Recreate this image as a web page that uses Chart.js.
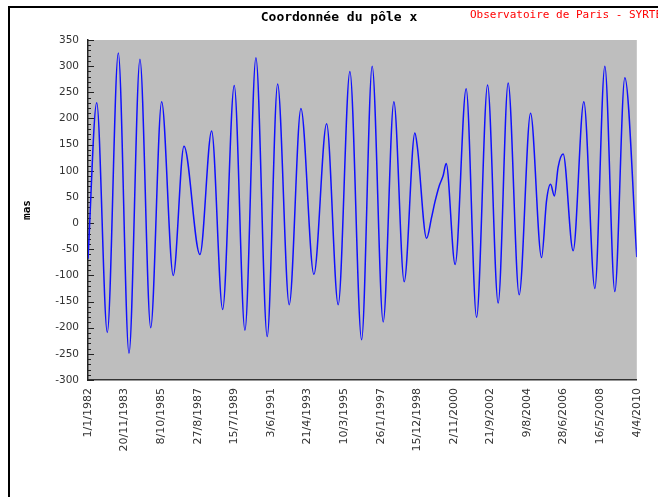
<!DOCTYPE html>
<html>
<head>
<meta charset="utf-8">
<script src="https://cdn.jsdelivr.net/npm/chart.js@4/dist/chart.umd.min.js"></script>
<style>
    html, body { margin: 0; padding: 0; background: #fff; }
    #wrap { position: relative; width: 658px; height: 497px; overflow: hidden; }
    #frame { position: absolute; left: 8px; top: 6px; width: 700px; height: 600px;
             border-left: 2px solid #000; border-top: 2px solid #000; }
    canvas { position: absolute; left: 0; top: 0; }
</style>
</head>
<body>
<div id="wrap">
    <div id="frame"></div>
    <canvas id="chart" width="658" height="497"></canvas>
</div>
<script>
// dates des graduations (pas de 688 jours depuis le 1/1/1982)
const tickLabels = ["1/1/1982", "20/11/1983", "8/10/1985", "27/8/1987", "15/7/1989", "3/6/1991",
    "21/4/1993", "10/3/1995", "26/1/1997", "15/12/1998", "2/11/2000", "21/9/2002",
    "9/8/2004", "28/6/2006", "16/5/2008", "4/4/2010"];

// jours depuis le 1/1/1982
const days = [0, 164, 363, 570, 771, 977, 1179, 1385, 1603, 1805,
    2105, 2325, 2532, 2750, 2951, 3158, 3370, 3566, 3784, 4004,
    4248, 4487, 4705, 4925, 5145, 5344, 5551, 5752, 5946, 6147,
    6194, 6367, 6461, 6523, 6604, 6679, 6735, 6904, 7111, 7307,
    7514, 7713, 7901, 8108, 8322, 8529, 8623, 8698, 8770, 8841,
    8935, 9123, 9324, 9531, 9719, 9907, 10095, 10320];

// coordonnee x du pole (mas)
const poleX = [-68, 230, -209, 325, -249, 313, -200, 232, -100, 147,
    -60, 176, -165, 263, -205, 316, -217, 266, -156, 219,
    -98, 190, -156, 290, -223, 300, -189, 232, -112, 172,
    145, -29, 11, 40, 71, 91, 114, -79, 257, -180,
    264, -153, 268, -137, 210, -66, 43, 74, 52, 107,
    132, -53, 232, -125, 300, -131, 278, -65];

const titre = "Coordonnée du pôle x";
const source = "Observatoire de Paris - SYRTE";

const tickFont = { family: "DejaVu Sans", size: 10.5 };

const decor = {
    id: "decor",
    beforeDraw(chart) {
        const { ctx, chartArea: a } = chart;
        ctx.save();
        ctx.fillStyle = "#bebebe";
        ctx.fillRect(a.left, a.top, a.right - a.left, a.bottom - a.top);
        ctx.restore();
    },
    beforeDatasetsDraw(chart) {
        const { ctx, chartArea: a } = chart;
        const y = chart.scales.y;
        ctx.save();
        ctx.strokeStyle = "#222";
        ctx.lineWidth = 1;
        ctx.beginPath();
        for (let v = -300; v <= 350; v += 10) {
            const py = Math.round(y.getPixelForValue(v)) + 0.5;
            const len = v % 50 === 0 ? 6 : 3;
            ctx.moveTo(a.left, py);
            ctx.lineTo(a.left + len, py);
        }
        ctx.stroke();
        ctx.restore();
    },
    afterDraw(chart) {
        const ctx = chart.ctx;
        ctx.save();
        ctx.textBaseline = "middle";
        ctx.textAlign = "center";
        ctx.fillStyle = "#000";
        ctx.font = 'bold 13px "DejaVu Sans Mono"';
        ctx.fillText(titre, 339, 18);
        ctx.textAlign = "left";
        ctx.fillStyle = "#ff0000";
        ctx.font = '11px "DejaVu Sans Mono"';
        ctx.fillText(source, 470, 15);
        ctx.restore();
    }
};

document.addEventListener("DOMContentLoaded", function () {
    const ctx = document.getElementById("chart").getContext("2d");
    new Chart(ctx, {
        type: "line",
        data: {
            datasets: [{
                data: days.map((d, i) => ({ x: d, y: poleX[i] })),
                borderColor: "#1010ff",
                borderWidth: 1.5,
                pointRadius: 0,
                cubicInterpolationMode: "monotone",
                fill: false
            }]
        },
        options: {
            responsive: false,
            animation: false,
            layout: { padding: { top: 40, right: 21, left: 0, bottom: 0 } },
            plugins: { legend: { display: false }, tooltip: { enabled: false } },
            scales: {
                x: {
                    type: "linear",
                    min: 0,
                    max: 10320,
                    afterFit: (s) => { s.height = 117; },
                    grid: { display: false, drawTicks: false },
                    border: { color: "#333", width: 1.5 },
                    ticks: {
                        stepSize: 688,
                        autoSkip: false,
                        maxRotation: 90,
                        minRotation: 90,
                        padding: 8,
                        color: "#333",
                        font: { family: "DejaVu Sans", size: 11 },
                        callback: (v) => tickLabels[Math.round(v / 688)]
                    }
                },
                y: {
                    min: -300,
                    max: 350,
                    afterFit: (s) => { s.width = 88; },
                    grid: { display: false, drawTicks: false },
                    border: { color: "#222", width: 1.5 },
                    ticks: { stepSize: 50, padding: 9, color: "#333", font: tickFont },
                    title: {
                        display: true,
                        text: "mas",
                        color: "#000",
                        font: { family: "DejaVu Sans Mono", size: 11, weight: "bold" },
                        padding: { top: 21, bottom: 0 }
                    }
                }
            }
        },
        plugins: [decor]
    });
});
</script>
</body>
</html>
